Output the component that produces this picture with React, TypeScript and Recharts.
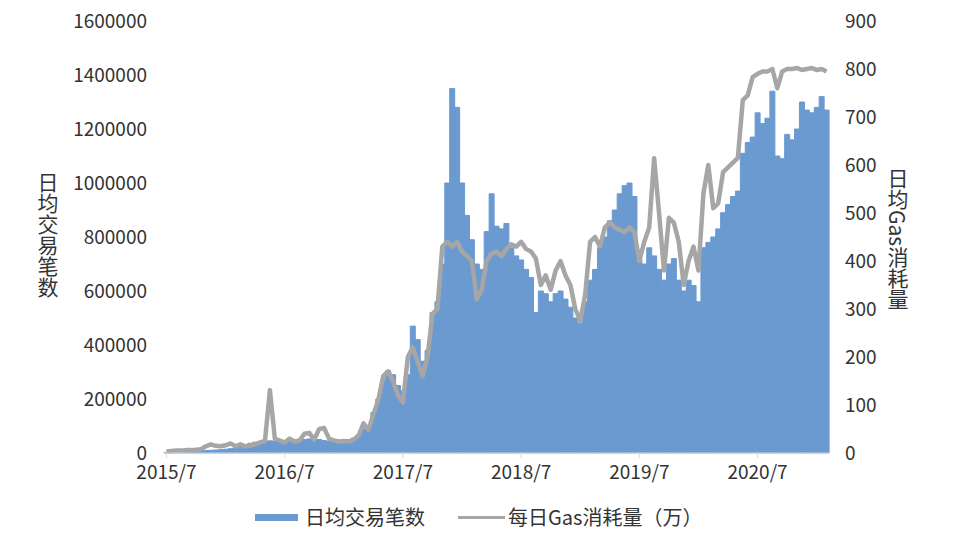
import { Bar, ComposedChart, Line, XAxis, YAxis } from 'recharts';

// half-month buckets, starting 2015/7
const START_YEAR = 2015;
const START_MONTH = 7;

// 日均交易笔数, per half month
const tx2015 = [2000, 4000, 5000, 5000, 6000, 7000, 7000, 8000, 9000, 10000, 11000, 12000];
const tx2016 = [
  14000, 16000, 18000, 24000, 30000, 36000, 40000, 38000, 42000, 45000, 44000, 42000,
  40000, 42000, 44000, 46000, 50000, 52000, 48000, 50000, 46000, 44000, 45000, 46000,
];
const tx2017 = [
  48000, 50000, 55000, 68000, 90000, 100000, 150000, 200000, 270000, 305000, 290000, 250000,
  230000, 290000, 470000, 420000, 340000, 380000, 520000, 560000, 700000, 1000000, 1350000, 1280000,
];
const tx2018 = [
  1000000, 880000, 790000, 700000, 680000, 820000, 960000, 840000, 830000, 850000, 760000, 730000,
  715000, 680000, 650000, 520000, 600000, 590000, 560000, 590000, 600000, 570000, 540000, 500000,
];
const tx2019 = [
  480000, 560000, 640000, 680000, 760000, 800000, 860000, 900000, 960000, 990000, 1000000, 950000,
  720000, 700000, 760000, 730000, 680000, 640000, 700000, 720000, 640000, 600000, 640000, 620000,
];
const tx2020 = [
  560000, 760000, 780000, 800000, 830000, 890000, 920000, 950000, 970000, 1110000, 1150000, 1170000,
  1260000, 1220000, 1240000, 1340000, 1100000, 1090000, 1180000, 1160000, 1200000, 1300000, 1270000, 1260000,
];
const tx2021 = [1280000, 1320000, 1270000];

// 每日Gas消耗量（万）, per half month
const gas2015 = [3, 4, 5, 5, 6, 6, 7, 8, 14, 18, 15, 14];
const gas2016 = [16, 20, 14, 18, 14, 15, 18, 22, 25, 131, 30, 26, 22, 30, 24, 26, 40, 42, 28, 50, 52, 30, 26, 24];
const gas2017 = [25, 24, 28, 36, 62, 48, 80, 110, 160, 170, 150, 120, 105, 200, 220, 190, 160, 200, 290, 300, 430, 440, 430, 440];
const gas2018 = [420, 410, 400, 320, 340, 400, 415, 420, 410, 425, 435, 430, 440, 425, 420, 405, 350, 370, 340, 380, 400, 370, 350, 300];
const gas2019 = [275, 330, 440, 450, 430, 470, 480, 470, 465, 460, 470, 460, 400, 440, 470, 614, 500, 380, 490, 480, 440, 350, 400, 430];
const gas2020 = [380, 540, 600, 510, 520, 585, 595, 605, 615, 735, 745, 783, 790, 795, 795, 800, 760, 795, 800, 800, 802, 798, 800, 802];
const gas2021 = [798, 800, 795];

const txTicks = [0, 200000, 400000, 600000, 800000, 1000000, 1200000, 1400000, 1600000];
const gasTicks = [0, 100, 200, 300, 400, 500, 600, 700, 800, 900];

const txCount = [...tx2015, ...tx2016, ...tx2017, ...tx2018, ...tx2019, ...tx2020, ...tx2021];
const gasUsage = [...gas2015, ...gas2016, ...gas2017, ...gas2018, ...gas2019, ...gas2020, ...gas2021];

const periods = txCount.map((_, i) => {
  const m = START_MONTH - 1 + Math.floor(i / 2);
  return `${START_YEAR + Math.floor(m / 12)}/${(m % 12) + 1}-${(i % 2) + 1}`;
});

const data = periods.map((period, i) => ({ period, tx: txCount[i], gas: gasUsage[i] }));

const BLUE = '#6A9AD0';
const GRAY = '#A6A6A6';
const FONT = '"Noto Sans CJK SC", "Noto Sans", sans-serif';
const TICK = { fontSize: 19, fill: '#333', fontFamily: FONT };

const verticalTitle: React.CSSProperties = {
  position: 'absolute',
  writingMode: 'vertical-rl',
  fontSize: 21,
  lineHeight: 1,
  color: '#333',
  fontFamily: FONT,
};

const legendText: React.CSSProperties = { fontSize: 20, color: '#333', lineHeight: '24px' };

export default function App() {
  // cancel the body margin so chart coords equal page coords
  return (
    <div style={{ position: 'relative', width: 960, height: 545, margin: '-8px 0 0 -8px', fontFamily: FONT }}>
      <ComposedChart
        width={960}
        height={545}
        data={data}
        margin={{ top: 21, right: 0, bottom: 62, left: 0 }}
        barCategoryGap={0}
        barGap={0}
      >
        <XAxis
          dataKey="period"
          interval={23}
          tickFormatter={(v: string) => v.split('-')[0]}
          tick={TICK}
          tickSize={5}
          tickMargin={8}
          stroke="#D9D9D9"
          height={30}
        />
        <YAxis
          yAxisId="left"
          domain={[0, 1600000]}
          ticks={txTicks}
          tick={TICK}
          axisLine={false}
          tickLine={false}
          tickMargin={11}
          width={164}
        />
        <YAxis
          yAxisId="right"
          orientation="right"
          domain={[0, 900]}
          ticks={gasTicks}
          tick={TICK}
          axisLine={false}
          tickLine={false}
          tickMargin={10}
          width={131}
        />
        <Bar yAxisId="left" dataKey="tx" fill={BLUE} stroke={BLUE} strokeWidth={1} isAnimationActive={false} />
        <Line
          yAxisId="right"
          dataKey="gas"
          type="linear"
          stroke={GRAY}
          strokeWidth={4.5}
          strokeLinejoin="round"
          dot={false}
          isAnimationActive={false}
        />
      </ComposedChart>

      <div style={{ ...verticalTitle, left: 37, top: 172 }}>日均交易笔数</div>
      <div style={{ ...verticalTitle, left: 887, top: 168 }}>日均Gas消耗量</div>

      <div style={{ position: 'absolute', left: 255, top: 505, height: 24, display: 'flex', alignItems: 'center' }}>
        <span style={{ display: 'inline-block', width: 43, height: 7, background: BLUE, marginRight: 7 }} />
        <span style={legendText}>日均交易笔数</span>
      </div>
      <div style={{ position: 'absolute', left: 458, top: 505, height: 24, display: 'flex', alignItems: 'center' }}>
        <span style={{ display: 'inline-block', width: 47, height: 3, background: GRAY, marginRight: 3 }} />
        <span style={legendText}>每日Gas消耗量（万）</span>
      </div>
    </div>
  );
}
